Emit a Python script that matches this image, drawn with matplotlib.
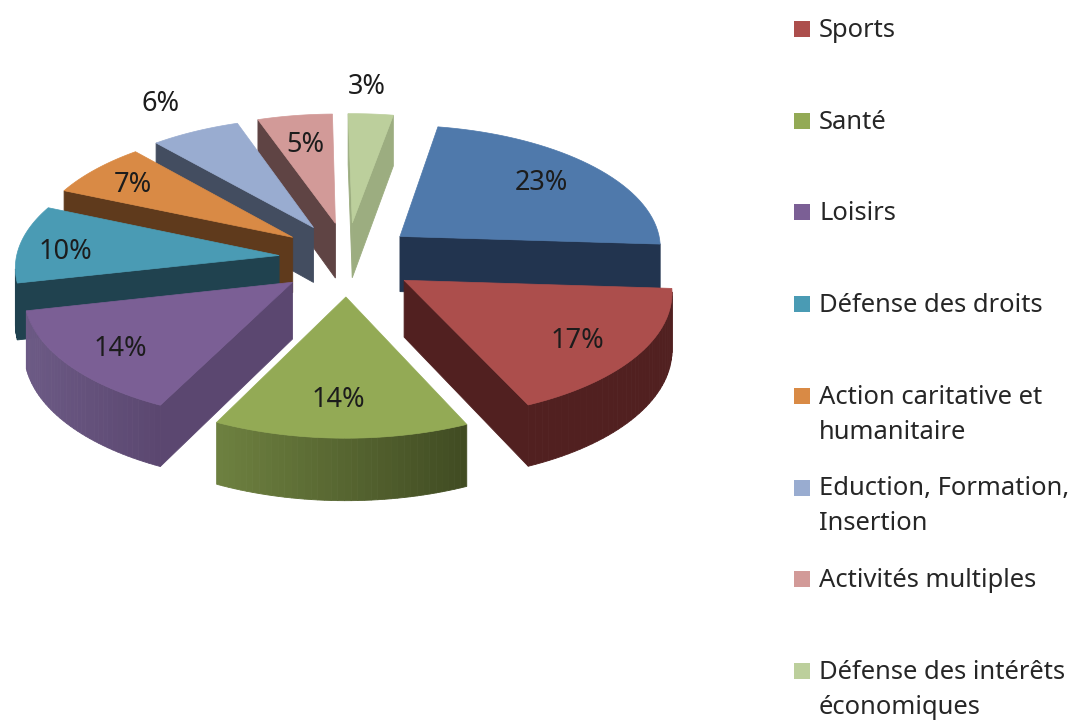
import numpy as np
import matplotlib
matplotlib.use('Agg')
import matplotlib.pyplot as plt
from matplotlib.colors import to_rgb

##-----------------------------------------
## Data, clockwise from the blue slice
##-----------------------------------------

values = [23, 17, 14, 14, 10, 7, 6, 5, 3]
legend_labels = ['Sports', 'Santé', 'Loisirs', 'Défense des droits',
                 'Action caritative et\nhumanitaire',
                 'Eduction, Formation,\nInsertion',
                 'Activités multiples',
                 'Défense des intérêts\néconomiques']

top_colors = ['#4f79ab', '#ac4e4c', '#93aa55', '#7b5f95', '#4a9bb4',
              '#d98a45', '#99acd0', '#d29a98', '#bccf9c']
wall_dark = ['#22344f', '#512020', '#404b22', '#5b4770', '#20424f',
             '#5f3a1c', '#434d60', '#5f4444', '#9cad80']
wall_light = ['#22344f', '#512020', '#6e8140', '#6c5a85', '#20424f',
              '#5f3a1c', '#434d60', '#5f4444', '#9cad80']
# distance of each percent label from the slice tip, 1 = rim, and a small nudge in pixels
label_r = [0.72, 0.68, 0.72, 0.72, 0.80, 0.70, 1.22, 0.72, 1.28]
label_nudge = [(2, -2), (17, 10), (-4, 4), (-13, 8), (-6, 6), (-20, -4), (-10, -8), (0, 1), (-9, 1)]

##-----------------------------------------
## Pie geometry, in pixels
##-----------------------------------------

cx, cy = 347, 259
rx, ry = 263, 123.5
ex, ey = 0.26, 0.30
persp = 0.08
depth = 56
start_angle = 10


def project(u, v):
    s = 1 / (1 + persp * v)
    return cx + rx * u * s, cy - ry * v * s, depth * s


fig = plt.figure(figsize=(10.75, 7.2), dpi=100)
ax = fig.add_axes([0, 0, 1, 1])
ax.set_xlim(0, 1075)
ax.set_ylim(720, 0)
ax.axis('off')

shares = 360 * np.array(values) / np.sum(values)
edges = start_angle + np.concatenate([[0], np.cumsum(shares)])
mids = np.radians((edges[:-1] + edges[1:]) / 2)

# back slices first so the front ones cover them
for rank, i in enumerate(np.argsort(-np.cos(mids))):
    off_u, off_v = ex * np.sin(mids[i]), ey * np.cos(mids[i])
    theta = np.radians(np.linspace(edges[i], edges[i + 1], 40))
    u = np.concatenate([[off_u], off_u + np.sin(theta)])
    v = np.concatenate([[off_v], off_v + np.cos(theta)])
    x, y, d = project(u, v)

    # an edge of the clockwise outline shows its wall if it runs to the left
    x0, x1 = x[1:].min(), x[1:].max()
    for j in range(len(x)):
        k = (j + 1) % len(x)
        if x[k] >= x[j]:
            continue
        if j == 0 or k == 0:
            col = wall_dark[i]
        else:
            t = ((x[j] + x[k]) / 2 - x0) / (x1 - x0)
            col = tuple((1 - t) * np.array(to_rgb(wall_light[i]))
                        + t * np.array(to_rgb(wall_dark[i])))
        ax.fill([x[j], x[k], x[k], x[j]],
                [y[j], y[k], y[k] + d[k], y[j] + d[j]],
                color=col, lw=0.6, zorder=2 + rank)
    ax.fill(x, y, color=top_colors[i], lw=0.5, zorder=2.5 + rank)

    lx, ly, _ = project(off_u + label_r[i] * np.sin(mids[i]),
                        off_v + label_r[i] * np.cos(mids[i]))
    ax.text(lx + label_nudge[i][0], ly + label_nudge[i][1], '%d%%' % values[i],
            ha='center', va='center', color='#1c1c1c',
            fontsize=19.5, family='Noto Sans', zorder=20)

##-----------------------------------------
## Legend, the first entry is off the picture
##-----------------------------------------

for i, lab in enumerate(legend_labels):
    ly = 29 + i * 91.7
    ax.fill([794, 810, 810, 794], [ly - 8, ly - 8, ly + 8, ly + 8],
            color=top_colors[i + 1], lw=0)
    ax.text(819, ly - 11, lab, ha='left', va='top', color='#262626',
            fontsize=18.4, family='Noto Sans', linespacing=1.52)

plt.savefig('out.png', dpi=100)
plt.close()
